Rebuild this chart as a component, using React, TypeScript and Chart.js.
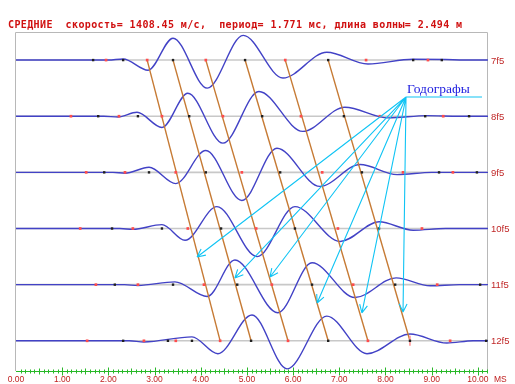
import React, { useEffect, useRef } from "react";
import { Chart, registerables } from "chart.js";

Chart.register(...registerables);

// ---- data ----
const titleText = "СРЕДНИЕ  скорость= 1408.45 м/с,  период= 1.771 мс, длина волны= 2.494 м";
const traceNames = ["7f5", "8f5", "9f5", "10f5", "11f5", "12f5"];
const traceOffsets = [7, 8, 9, 10, 11, 12];

// waveform extrema [time ms, amplitude (trace spacing units, + = up)]
const wave7 = [[0, 0], [2.0, 0], [2.32, 0.02], [2.86, -0.18], [3.4, 0.39], [4.14, -0.5], [4.92, 0.44], [5.78, -0.32], [6.73, 0.14], [7.62, -0.07], [8.6, 0.015], [9.3, 0.01], [9.7, 0], [10.22, 0]];
const wave8 = [[0, 0], [1.9, 0], [2.21, -0.015], [2.62, 0.07], [3.16, -0.2], [3.72, 0.41], [4.48, -0.48], [5.26, 0.44], [6.21, -0.27], [7.12, 0.16], [8.06, -0.03], [8.9, 0.01], [9.6, 0], [10.22, 0]];
const wave9 = [[0, 0], [2.1, 0], [2.36, -0.015], [2.88, 0.09], [3.46, -0.2], [4.11, 0.39], [4.89, -0.5], [5.65, 0.43], [6.58, -0.25], [7.45, 0.14], [8.25, -0.04], [9.0, 0], [10.22, 0]];
const wave10 = [[0, 0], [2.25, 0], [2.53, -0.015], [3.16, 0.07], [3.66, -0.21], [4.35, 0.39], [5.22, -0.5], [6.04, 0.39], [7.02, -0.23], [7.86, 0.12], [8.6, -0.03], [9.3, 0], [10.22, 0]];
const wave11 = [[0, 0], [2.35, 0], [2.64, -0.015], [3.44, 0.05], [4.14, -0.21], [4.74, 0.44], [5.67, -0.5], [6.41, 0.39], [7.34, -0.23], [8.23, 0.12], [8.97, -0.02], [9.6, 0], [10.22, 0]];
const wave12 = [[0, 0], [2.45, 0], [2.77, -0.02], [3.81, 0.07], [4.37, -0.23], [5.11, 0.46], [5.87, -0.5], [6.73, 0.44], [7.6, -0.23], [8.53, 0.12], [9.33, -0.04], [9.9, 0], [10.22, 0]];
const waves = [wave7, wave8, wave9, wave10, wave11, wave12];

// picked phases on baselines (ms)
const black7 = [1.67, 2.32, 3.4, 4.96, 6.76, 8.6, 9.22];
const red7 = [1.95, 2.84, 4.11, 5.83, 7.58, 8.92];
const black8 = [1.78, 2.64, 3.75, 5.33, 7.1, 8.86, 9.81];
const red8 = [1.19, 2.23, 3.16, 4.48, 6.17, 7.88, 9.25];
const black9 = [1.91, 2.88, 4.11, 5.72, 7.49, 9.16, 9.98];
const red9 = [1.52, 2.36, 3.46, 4.89, 6.63, 8.38, 9.46];
const black10 = [2.08, 3.16, 4.44, 6.04, 7.86];
const red10 = [1.39, 2.53, 3.72, 5.2, 6.97, 8.79];
const black11 = [2.14, 3.4, 4.79, 6.41, 8.21, 10.05];
const red11 = [1.73, 2.64, 4.07, 5.54, 7.3, 9.12];
const black12 = [2.32, 3.29, 3.81, 5.09, 6.76, 8.53, 10.18];
const red12 = [1.54, 2.77, 3.46, 4.42, 5.89, 7.62, 9.4];
const blackMarks = [black7, black8, black9, black10, black11, black12];
const redMarks = [red7, red8, red9, red10, red11, red12];
const pinkMark = [8.53, 12];

// hodograph lines: time at trace 7 and at trace 12
const hodoTop = [2.84, 3.4, 4.11, 4.96, 5.83, 6.76];
const hodoBottom = [4.42, 5.09, 5.89, 6.76, 7.62, 8.53];

// annotation arrows
const labelText = "Годографы";
const labelPos = [8.467, 7.586];
const apex = [8.445, 7.658];
const underlineEndX = 10.09;
const arrowX = [3.92, 4.74, 5.5, 6.52, 7.49, 8.38];
const arrowY = [10.507, 10.881, 10.863, 11.326, 11.504, 11.487];

const xTickLabels = ["0.00", "1.00", "2.00", "3.00", "4.00", "5.00", "6.00", "7.00", "8.00", "9.00", "10.00"];
const xUnit = "MS";

const X_MAX = 10.22;
const Y_MIN = 6.5;
const Y_MAX = 12.52;

const decor = {
  id: "decor",
  beforeDatasetsDraw(chart: any) {
    const ctx = chart.ctx;
    const a = chart.chartArea;
    ctx.save();
    ctx.strokeStyle = "#b8b8b8";
    ctx.lineWidth = 1;
    ctx.beginPath();
    ctx.moveTo(a.left - 0.5, a.bottom + 1);
    ctx.lineTo(a.left - 0.5, a.top + 0.5);
    ctx.lineTo(a.right - 0.5, a.top + 0.5);
    ctx.lineTo(a.right - 0.5, a.bottom + 1);
    ctx.stroke();
    ctx.restore();
  },
  afterDatasetsDraw(chart: any) {
    const ctx = chart.ctx;
    const a = chart.chartArea;
    const xs = chart.scales.x;
    const ys = chart.scales.y;
    ctx.save();

    // title
    ctx.fillStyle = "#d01010";
    ctx.font = "bold 10px 'DejaVu Sans Mono'";
    (ctx as any).letterSpacing = "0.38px";
    ctx.textBaseline = "alphabetic";
    ctx.textAlign = "left";
    ctx.fillText(titleText, 8, 27.5);
    (ctx as any).letterSpacing = "0px";

    // trace labels
    ctx.fillStyle = "#c02828";
    ctx.font = "9.5px 'Liberation Sans'";
    ctx.textBaseline = "middle";
    traceNames.forEach((n, i) => {
      ctx.fillText(n, a.right + 3, ys.getPixelForValue(traceOffsets[i]) + 1);
    });

    // x axis
    const axY = a.bottom + 1.5;
    ctx.strokeStyle = "#28b828";
    ctx.lineWidth = 1;
    ctx.beginPath();
    ctx.moveTo(a.left, axY);
    ctx.lineTo(a.right, axY);
    for (let i = 1; i <= Math.floor(X_MAX * 10); i++) {
      const px = Math.round(xs.getPixelForValue(i / 10)) + 0.5;
      const h = i % 10 === 0 ? 4 : i % 5 === 0 ? 3 : 2;
      ctx.moveTo(px, axY - h);
      ctx.lineTo(px, axY + h);
    }
    ctx.stroke();
    ctx.fillStyle = "#c02020";
    ctx.font = "8.5px 'Liberation Sans'";
    ctx.textAlign = "center";
    ctx.textBaseline = "alphabetic";
    xTickLabels.forEach((l, i) => {
      ctx.fillText(l, xs.getPixelForValue(i), 381.5);
    });
    ctx.textAlign = "left";
    ctx.fillText(xUnit, a.right + 6, 381.5);

    // annotation
    const ax = xs.getPixelForValue(apex[0]);
    const ay = ys.getPixelForValue(apex[1]);
    ctx.strokeStyle = "#10c4f4";
    ctx.lineWidth = 1.1;
    ctx.beginPath();
    ctx.moveTo(ax, ay);
    ctx.lineTo(xs.getPixelForValue(underlineEndX), ay);
    arrowX.forEach((tx, i) => {
      const px = xs.getPixelForValue(tx);
      const py = ys.getPixelForValue(arrowY[i]);
      ctx.moveTo(ax, ay);
      ctx.lineTo(px, py);
      const ang = Math.atan2(py - ay, px - ax);
      const L = 9;
      const s = 0.45;
      ctx.moveTo(px, py);
      ctx.lineTo(px - L * Math.cos(ang - s), py - L * Math.sin(ang - s));
      ctx.moveTo(px, py);
      ctx.lineTo(px - L * Math.cos(ang + s), py - L * Math.sin(ang + s));
    });
    ctx.stroke();

    ctx.fillStyle = "#2222e0";
    ctx.font = "13.5px 'Liberation Serif'";
    ctx.textAlign = "left";
    ctx.textBaseline = "alphabetic";
    ctx.fillText(labelText, xs.getPixelForValue(labelPos[0]), ys.getPixelForValue(labelPos[1]));

    ctx.restore();
  },
};

export default function App() {
  const ref = useRef<HTMLCanvasElement>(null);
  useEffect(() => {
    document.body.style.margin = "0";
    const datasets: any[] = [];
    traceOffsets.forEach((t) => {
      datasets.push({
        data: [{ x: 0, y: t }, { x: X_MAX, y: t }],
        borderColor: "#c8c8c8",
        borderWidth: 1.6,
        pointRadius: 0,
        order: 6,
      });
    });
    waves.forEach((w, i) => {
      const t = traceOffsets[i];
      datasets.push({
        data: w.map(([x, amp]) => ({ x, y: t - amp })),
        borderColor: "#4242c6",
        borderWidth: 1.4,
        pointRadius: 0,
        cubicInterpolationMode: "monotone",
        order: 4,
      });
    });
    hodoTop.forEach((x0, i) => {
      datasets.push({
        data: [{ x: x0, y: traceOffsets[0] }, { x: hodoBottom[i], y: traceOffsets[traceOffsets.length - 1] }],
        borderColor: "#c67a34",
        borderWidth: 1.4,
        pointRadius: 0,
        order: 3,
      });
    });
    blackMarks.forEach((m, i) => {
      datasets.push({
        data: m.map((x) => ({ x, y: traceOffsets[i] })),
        showLine: false,
        pointStyle: "rect",
        pointRadius: 1.7,
        pointBackgroundColor: "#202020",
        pointBorderWidth: 0,
        order: 1,
      });
    });
    redMarks.forEach((m, i) => {
      datasets.push({
        data: m.map((x) => ({ x, y: traceOffsets[i] })),
        showLine: false,
        pointStyle: "rect",
        pointRadius: 1.9,
        pointBackgroundColor: "#ff4c4c",
        pointBorderWidth: 0,
        order: 1,
      });
    });
    datasets.push({
      data: [{ x: pinkMark[0], y: pinkMark[1] }],
      showLine: false,
      pointStyle: "line",
      rotation: 90,
      pointRadius: 5,
      pointBorderColor: "#ff9090",
      pointBorderWidth: 1.5,
      order: 2,
    });

    const chart = new Chart(ref.current!, {
      type: "line",
      data: { datasets },
      options: {
        animation: false,
        responsive: false,
        devicePixelRatio: 1,
        layout: { padding: { left: 16, top: 32, right: 27, bottom: 14 } },
        plugins: { legend: { display: false }, tooltip: { enabled: false } },
        events: [],
        scales: {
          x: { type: "linear", min: 0, max: X_MAX, display: false },
          y: { type: "linear", min: Y_MIN, max: Y_MAX, reverse: true, display: false },
        },
      },
      plugins: [decor],
    } as any);
    return () => chart.destroy();
  }, []);
  return (
    <div style={{ position: "absolute", left: 0, top: 0, width: 515, height: 384, background: "#fff" }}>
      <canvas ref={ref} width={515} height={384} style={{ display: "block" }} />
    </div>
  );
}
